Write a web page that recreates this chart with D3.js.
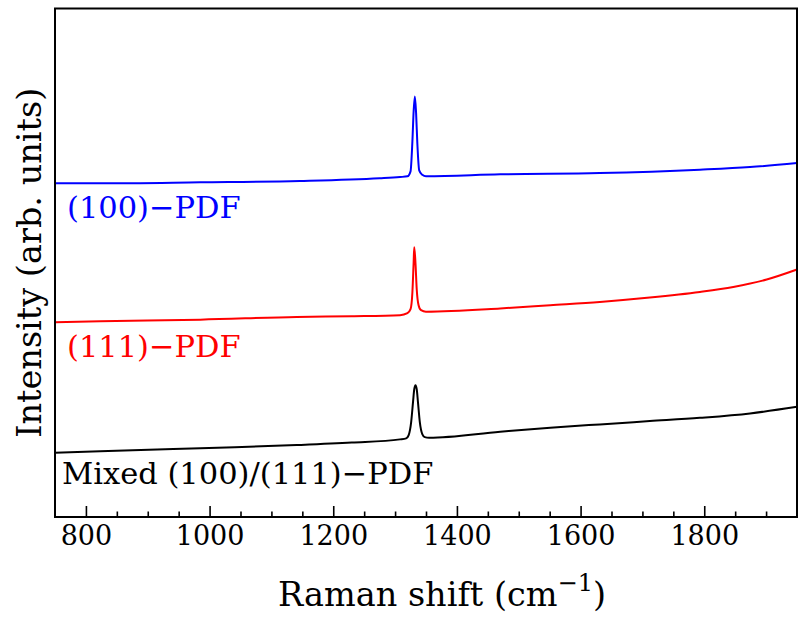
<!DOCTYPE html>
<html>
<head>
<meta charset="utf-8">
<script src="https://cdn.jsdelivr.net/npm/d3@7"></script>
<style>
  body { margin: 0; background: #fff; }
  svg { display: block; }
  text { font-family: "DejaVu Serif", serif; fill: #000; }
</style>
</head>
<body>
<svg id="chart" width="805" height="621"></svg>
<script>
// ---- data (Raman shift in cm^-1, intensity in arb. units) ----
const seriesNames = ["(100)\u2212PDF", "(111)\u2212PDF", "Mixed (100)/(111)\u2212PDF"];
const seriesColors = ["#0000ff", "#ff0000", "#000000"];

const blueShift = [750, 823, 985, 1146, 1275, 1308, 1320, 1325, 1328, 1330, 1332, 1334, 1336, 1339, 1344, 1350, 1470, 1631, 1793, 1874, 1950];
const blueInt   = [334, 334, 335, 336.3, 339, 340.3, 341, 346, 376, 406, 421, 404, 374, 347, 342.5, 341, 343, 344.3, 347.7, 350.3, 354.3];

const redShift = [750, 823, 985, 1141, 1230, 1308, 1320, 1325, 1328, 1330, 1331, 1333, 1335, 1338, 1342, 1350, 1470, 1551, 1631, 1712, 1793, 1847, 1901, 1950];
const redInt   = [195, 196, 197.5, 200.3, 201, 202, 204, 208, 225, 255, 270, 254, 228, 212, 207, 205.5, 208.7, 212, 215.3, 219.7, 225.3, 230.3, 237.7, 247.7];

const blackShift = [750, 823, 985, 1141, 1230, 1308, 1318, 1322, 1326, 1329, 1331, 1333, 1335, 1337, 1340, 1344, 1348, 1355, 1470, 1551, 1631, 1712, 1793, 1874, 1950];
const blackInt   = [64.3, 65.7, 68.9, 72, 74.5, 77.7, 78.7, 82, 95, 115, 128, 132, 128, 115, 95, 83, 80, 79.3, 85.3, 89.3, 92.7, 96, 99.3, 103.7, 110.3];

const xMajorTicks = [800, 1000, 1200, 1400, 1600, 1800];
const xMinorTicks = [850, 900, 950, 1050, 1100, 1150, 1250, 1300, 1350, 1450, 1500, 1550, 1650, 1700, 1750, 1850, 1900];
const xDomain = [750, 1950];
const yDomain = [0, 509];

const xTitle = "Raman shift (cm";
const xTitleSup = "\u22121";
const yTitle = "Intensity (arb. units)";

// ---- layout ----
const M = { left: 55, top: 8.5, right: 797, bottom: 517 };
const svg = d3.select("#chart");

const x = d3.scaleLinear().domain(xDomain).range([M.left, M.right]);
const y = d3.scaleLinear().domain(yDomain).range([M.bottom, M.top]);

const series = [
  { name: seriesNames[0], color: seriesColors[0], xs: blueShift, ys: blueInt, labelY: 218 },
  { name: seriesNames[1], color: seriesColors[1], xs: redShift, ys: redInt, labelY: 357 },
  { name: seriesNames[2], color: seriesColors[2], xs: blackShift, ys: blackInt, labelY: 484 }
];

const line = d3.line()
  .x(d => x(d[0]))
  .y(d => y(d[1]))
  .curve(d3.curveMonotoneX);

const plot = svg.append("g");
series.forEach(s => {
  const pts = s.xs.map((v, i) => [v, s.ys[i]]);
  plot.append("path")
    .datum(pts)
    .attr("d", line)
    .attr("fill", "none")
    .attr("stroke", s.color)
    .attr("stroke-width", 2)
    .attr("stroke-linejoin", "round");
});

// series labels
const labelX = [67, 67, 62];
series.forEach((s, i) => {
  svg.append("text")
    .attr("x", labelX[i])
    .attr("y", s.labelY)
    .attr("font-size", 30.5)
    .style("fill", s.color)
    .text(s.name);
});

// axes
const xAxis = d3.axisBottom(x)
  .tickValues(xMajorTicks)
  .tickSize(-11)
  .tickPadding(9)
  .tickFormat(d3.format("d"));
const gx = svg.append("g").attr("transform", `translate(0,${M.bottom})`).call(xAxis);
gx.select(".domain").remove();
gx.selectAll(".tick line").attr("stroke", "#000").attr("stroke-width", 1.6);
gx.selectAll(".tick text").attr("font-size", 27).attr("font-family", "DejaVu Serif").attr("fill", "#000");

const xMinor = d3.axisBottom(x).tickValues(xMinorTicks).tickSize(-5.5).tickFormat("");
const gxm = svg.append("g").attr("transform", `translate(0,${M.bottom})`).call(xMinor);
gxm.select(".domain").remove();
gxm.selectAll(".tick line").attr("stroke", "#000").attr("stroke-width", 1.6);

// frame
svg.append("rect")
  .attr("x", M.left).attr("y", M.top)
  .attr("width", M.right - M.left).attr("height", M.bottom - M.top)
  .attr("fill", "none").attr("stroke", "#000").attr("stroke-width", 2);

// axis titles
const xt = svg.append("text")
  .attr("x", 442).attr("y", 606)
  .attr("text-anchor", "middle")
  .attr("font-size", 33.5);
xt.append("tspan").text(xTitle);
xt.append("tspan").attr("dy", -15).attr("font-size", 24).text(xTitleSup);
xt.append("tspan").attr("dy", 15).text(")");

svg.append("text")
  .attr("transform", `translate(41,${(M.top + M.bottom) / 2}) rotate(-90)`)
  .attr("text-anchor", "middle")
  .attr("font-size", 33.5)
  .text(yTitle);
</script>
</body>
</html>
